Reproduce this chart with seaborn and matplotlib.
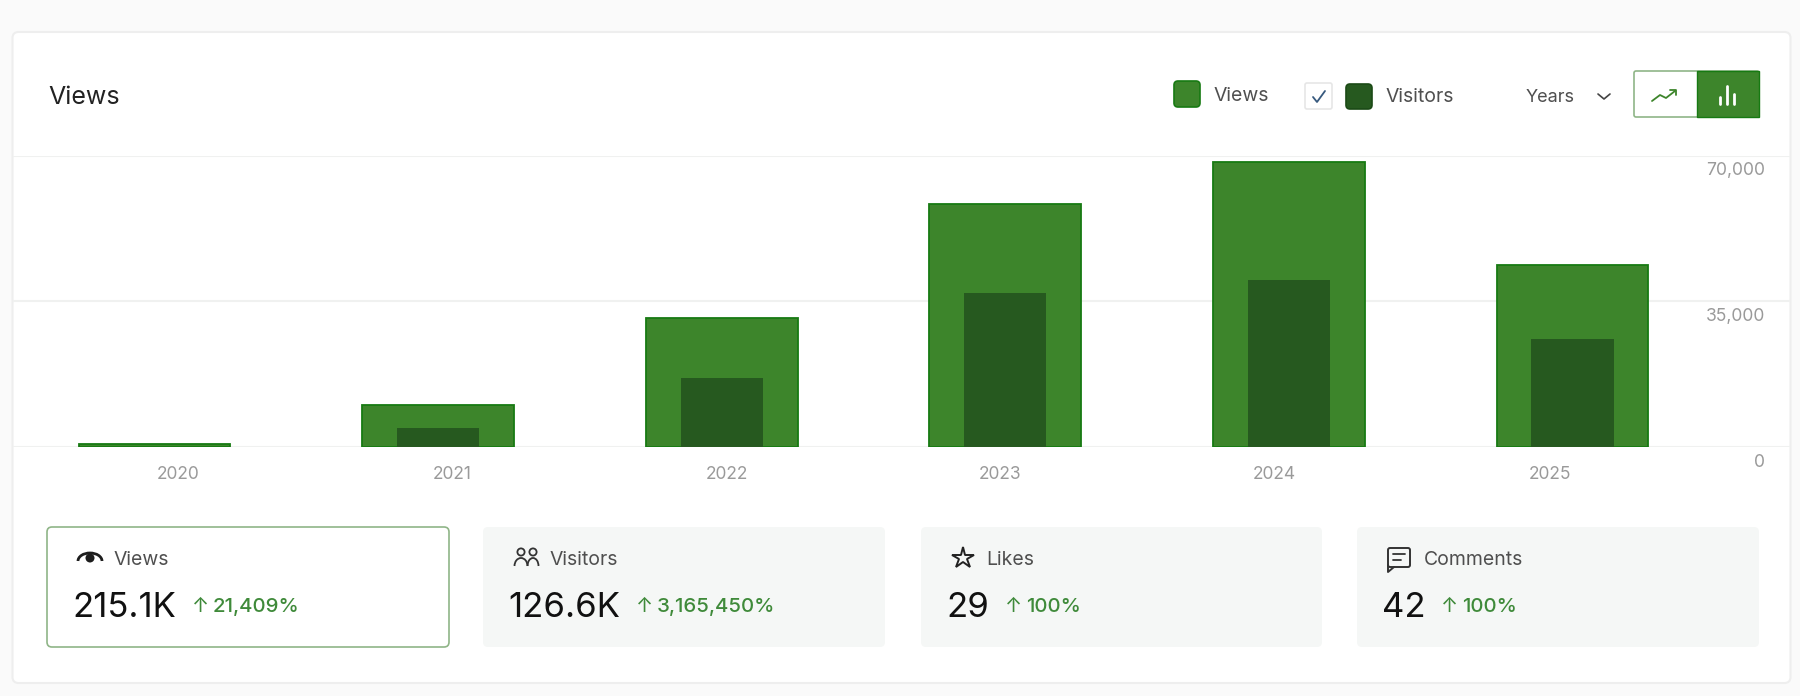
import numpy as np
import seaborn as sns
import matplotlib.pyplot as plt
from matplotlib.patches import FancyBboxPatch, Circle, Arc, Rectangle

# chart values
years = ["2020", "2021", "2022", "2023", "2024", "2025"]
views = [720, 10090, 30980, 58350, 68440, 43700]
visitors = [4, 4560, 16570, 36980, 40100, 25930]
y_ticks = [0, 35000, 70000]
y_tick_labels = ["0", "35,000", "70,000"]

# stat cards under the chart
stat_names = ["Views", "Visitors", "Likes", "Comments"]
stat_values = ["215.1K", "126.6K", "29", "42"]
stat_changes = ["21,409%", "3,165,450%", "100%", "100%"]

GREEN = "#3d852b"
EDGE = "#177a12"
DARK = "#26591f"
LIGHT_LINE = "#f0f1f0"
TICK_TEXT = "#9a9a9a"
LABEL_TEXT = "#4f4f4f"
CHANGE = "#3f8a3a"

sns.set_theme(style="white")
plt.rcParams["font.family"] = ["Inter", "DejaVu Sans"]

fig = plt.figure(figsize=(18, 6.96), dpi=100, facecolor="#fafafa")

# overlay in pixel coordinates for the card and the controls
bg = fig.add_axes([0, 0, 1, 1], zorder=0)
bg.set_xlim(0, 1800)
bg.set_ylim(696, 0)
bg.axis("off")
bg.add_patch(FancyBboxPatch((12.5, 32), 1778, 651, boxstyle="round,pad=0,rounding_size=6",
                            fc="white", ec="#eeeeee", lw=1.5))

# bar chart
ax = fig.add_axes([13 / 1800, 1 - 447 / 696, 1777 / 1800, 291.5 / 696], zorder=1)
ax.patch.set_alpha(0)
sns.barplot(x=years, y=views, color=GREEN, saturation=1, width=0.535,
            edgecolor=EDGE, linewidth=1.3, ax=ax, zorder=3)
sns.barplot(x=years, y=visitors, color=DARK, saturation=1, width=0.29,
            linewidth=0, ax=ax, zorder=4)
ax.set_xlim(-0.499, 5.767)
ax.set_ylim(0, 70000)
ax.set_xlabel("")
ax.set_ylabel("")
sns.despine(ax=ax, left=True, bottom=True)
ax.set_yticks(y_ticks)
ax.set_yticklabels([])
ax.grid(axis="y", color=LIGHT_LINE, lw=1.5, zorder=0)
ax.grid(axis="x", visible=False)
# the year labels do not sit under the bars in the original
ax.set_xticks([0.083, 1.049, 2.017, 2.98, 3.95, 4.92])
ax.set_xticklabels(years)
ax.tick_params(axis="x", length=6.5, width=0.8, color="#cccccc", labelcolor=TICK_TEXT,
               labelsize=12.5, pad=7.5)
ax.tick_params(axis="y", length=0)

ui = fig.add_axes([0, 0, 1, 1], zorder=2)
ui.set_xlim(0, 1800)
ui.set_ylim(696, 0)
ui.axis("off")


def box(x0, y0, x1, y1, fc, ec="none", lw=1.0, r=4):
    ui.add_patch(FancyBboxPatch((x0, y0), x1 - x0, y1 - y0,
                                boxstyle=f"round,pad=0,rounding_size={r}",
                                fc=fc, ec=ec, lw=lw))


for tick, label in zip(y_ticks, y_tick_labels):
    y_px = 447 - tick / 70000 * 291.5
    ui.text(1765, y_px + 15.5, label, ha="right", va="center", fontsize=12.6, color=TICK_TEXT)

# header
ui.text(48, 97, "Views", fontsize=18, color="#222222", va="center")
box(1174, 81, 1200, 107, GREEN, ec=EDGE, lw=1.2)
ui.text(1213, 96, "Views", fontsize=14, color=LABEL_TEXT, va="center")
box(1305, 83, 1332, 109, "white", ec="#e6e6e6", lw=1.2, r=2)
ui.plot([1313, 1317, 1325], [97, 102, 91], color="#37597e", lw=1.3)
box(1346, 84, 1372, 109, DARK, ec="#1b4a16", lw=1.2)
ui.text(1386, 97, "Visitors", fontsize=14, color=LABEL_TEXT, va="center")
ui.text(1526, 98, "Years", fontsize=13, color=LABEL_TEXT, va="center")
ui.plot([1598, 1604, 1610], [94, 99, 94], color="#444444", lw=1.2)

# line / bar toggle
box(1634, 71, 1759, 117, "white", ec="#8fb587", lw=1.2, r=2)
ui.add_patch(Rectangle((1697, 71), 62, 46, fc=GREEN, ec=EDGE, lw=1.0))
ui.plot([1652, 1660, 1666, 1675], [101, 95, 98, 91], color=GREEN, lw=1.3)
ui.plot([1670, 1676, 1676], [90, 90, 95], color=GREEN, lw=1.3)
for bar_x, top in zip([1720, 1727, 1734], [97, 86, 94]):
    ui.plot([bar_x, bar_x], [top, 104], color="white", lw=2.0, solid_capstyle="round")

# stat cards
card_left = [47, 483, 921, 1357]
card_right = [449, 885, 1322, 1759]
label_x = [114, 550, 986, 1424]
arrow_x = [200, 644, 1013, 1449]

for i, name in enumerate(stat_names):
    x0 = card_left[i]
    if i == 0:
        box(x0, 527, card_right[i], 647, "white", ec="#8fb587", lw=1.2, r=5)
    else:
        box(x0, 527, card_right[i], 647, "#f5f7f6", r=5)
    ui.text(label_x[i], 560, name, fontsize=14, color=LABEL_TEXT, va="center")
    ui.text(x0 + 25, 608, stat_values[i], fontsize=25, color="#111111", va="center")
    ui.text(arrow_x[i], 607, "↑", fontsize=14.7, color=CHANGE, va="center", ha="center")
    ui.text(arrow_x[i] + 13, 607, stat_changes[i], fontsize=14.7, color=CHANGE,
            va="center", weight=500)

# eye icon
ui.add_patch(Arc((90, 561), 24, 16, theta1=180, theta2=360, ec="#1d1d1d", lw=2))
ui.add_patch(Circle((90, 558), 4.5, fc="#1d1d1d", ec="none"))
# people icon
for cx, hw in [(521, 13), (533, 11)]:
    ui.add_patch(Circle((cx, 552), 3.6, fc="none", ec="#333333", lw=1.3))
    ui.add_patch(Arc((cx, 566), hw, 16, theta1=180, theta2=360, ec="#333333", lw=1.3))
# star icon
ui.plot([963], [558], marker="*", ms=16, mfc="none", mec="#222222", mew=1.4)
# comment icon
box(1388, 548, 1410, 567, "none", ec="#333333", lw=1.4, r=2)
ui.plot([1388, 1388, 1394], [565, 572, 567], color="#333333", lw=1.4)
ui.plot([1393, 1405], [554, 554], color="#333333", lw=1.3)
ui.plot([1393, 1401], [560, 560], color="#333333", lw=1.3)

fig.savefig("out.png", dpi=100, facecolor=fig.get_facecolor())
